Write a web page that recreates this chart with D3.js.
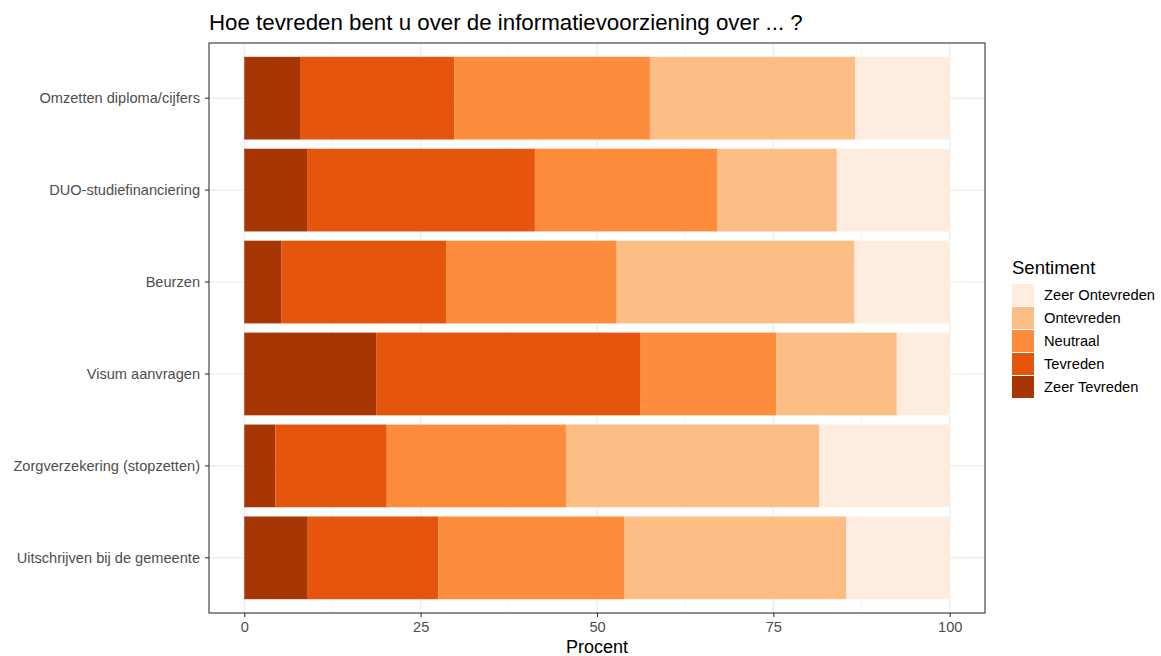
<!doctype html>
<html>
  <head>
    <meta charset="utf-8">
    <title>Informatievoorziening</title>
    <style>
      body { margin: 0; background: #fff; }
      text { font-family: "Liberation Sans", Arial, sans-serif; }
    </style>
    <script src="https://cdn.jsdelivr.net/npm/d3@7/dist/d3.min.js"></script>
  </head>
  <body>

  <svg width="1161" height="656"></svg>

  <script>

  var categories = [
    'Omzetten diploma/cijfers',
    'DUO-studiefinanciering',
    'Beurzen',
    'Visum aanvragen',
    'Zorgverzekering (stopzetten)',
    'Uitschrijven bij de gemeente'
  ];

  // stacking order, left to right
  var sentiments = ['Zeer Tevreden', 'Tevreden', 'Neutraal', 'Ontevreden', 'Zeer Ontevreden'];
  var colors = ['#a63603', '#e6550d', '#fd8d3c', '#fdbe85', '#feedde'];

  var zeerTevreden   = [7.9, 8.9, 5.3, 18.7, 4.4, 9.0];
  var tevreden       = [21.9, 32.3, 23.3, 37.4, 15.8, 18.5];
  var neutraal       = [27.7, 25.9, 24.2, 19.3, 25.4, 26.4];
  var ontevreden     = [29.1, 16.9, 33.7, 17.1, 35.9, 31.4];
  var zeerOntevreden = [13.4, 16.0, 13.5, 7.5, 18.5, 14.7];

  var xTicks = [0, 25, 50, 75, 100];
  var xTitle = 'Procent';
  var title = 'Hoe tevreden bent u over de informatievoorziening over ... ?';
  var legendTitle = 'Sentiment';

  var series = [zeerTevreden, tevreden, neutraal, ontevreden, zeerOntevreden];

  var rows = categories.map(function(c, i) {
    var r = { cat: c };
    sentiments.forEach(function(s, j) { r[s] = series[j][i]; });
    return r;
  });

  var stacked = d3.stack().keys(sentiments)(rows);

  var $svg = d3.select('svg');
  var pLeft = 209, pRight = 985, pTop = 43, pBottom = 613;

  var x = d3.scaleLinear().domain([-5, 105]).range([pLeft, pRight]);
  var y = d3.scaleBand().domain(categories).range([pTop, pBottom])
    .paddingInner(0.1).paddingOuter(0.15);

  // panel
  var g = $svg.append('g');

  var minor = [12.5, 37.5, 62.5, 87.5];
  g.selectAll('.minor').data(minor).enter().append('line')
    .attr('x1', function(d){ return x(d); }).attr('x2', function(d){ return x(d); })
    .attr('y1', pTop).attr('y2', pBottom)
    .attr('stroke', '#f2f2f2').attr('stroke-width', 0.6);

  g.selectAll('.major').data(xTicks).enter().append('line')
    .attr('x1', function(d){ return x(d); }).attr('x2', function(d){ return x(d); })
    .attr('y1', pTop).attr('y2', pBottom)
    .attr('stroke', '#ebebeb').attr('stroke-width', 1.1);

  g.selectAll('.ygrid').data(categories).enter().append('line')
    .attr('x1', pLeft).attr('x2', pRight)
    .attr('y1', function(d){ return y(d) + y.bandwidth() / 2; })
    .attr('y2', function(d){ return y(d) + y.bandwidth() / 2; })
    .attr('stroke', '#ebebeb').attr('stroke-width', 1.1);

  g.selectAll('.layer').data(stacked).enter().append('g')
    .attr('fill', function(d, i){ return colors[i]; })
    .selectAll('rect').data(function(d){ return d; }).enter().append('rect')
    .attr('x', function(d){ return x(d[0]); })
    .attr('width', function(d){ return x(d[1]) - x(d[0]); })
    .attr('y', function(d){ return y(d.data.cat); })
    .attr('height', y.bandwidth());

  g.append('rect')
    .attr('x', pLeft).attr('y', pTop)
    .attr('width', pRight - pLeft).attr('height', pBottom - pTop)
    .attr('fill', 'none').attr('stroke', '#333').attr('stroke-width', 1.1);

  // axes
  var xAxis = $svg.append('g')
    .attr('transform', 'translate(0,' + pBottom + ')')
    .call(d3.axisBottom(x).tickValues(xTicks).tickSize(4).tickPadding(5));
  var yAxis = $svg.append('g')
    .attr('transform', 'translate(' + pLeft + ',0)')
    .call(d3.axisLeft(y).tickSize(4).tickPadding(5));

  [xAxis, yAxis].forEach(function(a) {
    a.select('.domain').remove();
    a.selectAll('.tick line').attr('stroke', '#333').attr('stroke-width', 1.1);
    a.selectAll('.tick text').attr('fill', '#4d4d4d').style('font-size', '14.6px');
  });

  $svg.append('text')
    .attr('x', (pLeft + pRight) / 2).attr('y', 653)
    .attr('text-anchor', 'middle')
    .style('font-size', '18px').attr('fill', '#000')
    .text(xTitle);

  $svg.append('text')
    .attr('x', pLeft).attr('y', 30)
    .style('font-size', '22.3px').attr('fill', '#000')
    .text(title);

  // legend, reversed order
  var lg = $svg.append('g').attr('transform', 'translate(1012,0)');
  lg.append('text').attr('x', 0).attr('y', 274)
    .style('font-size', '18.5px').attr('fill', '#000').text(legendTitle);

  var legendItems = sentiments.map(function(s, i){ return { name: s, color: colors[i] }; }).reverse();
  var items = lg.selectAll('.item').data(legendItems).enter().append('g')
    .attr('transform', function(d, i){ return 'translate(0,' + (284 + i * 23) + ')'; });
  items.append('rect')
    .attr('width', 22).attr('height', 22)
    .attr('fill', function(d){ return d.color; });
  items.append('text')
    .attr('x', 32).attr('y', 11).attr('dy', '0.35em')
    .style('font-size', '14.7px').attr('fill', '#000')
    .text(function(d){ return d.name; });

  </script>

  </body>
</html>
